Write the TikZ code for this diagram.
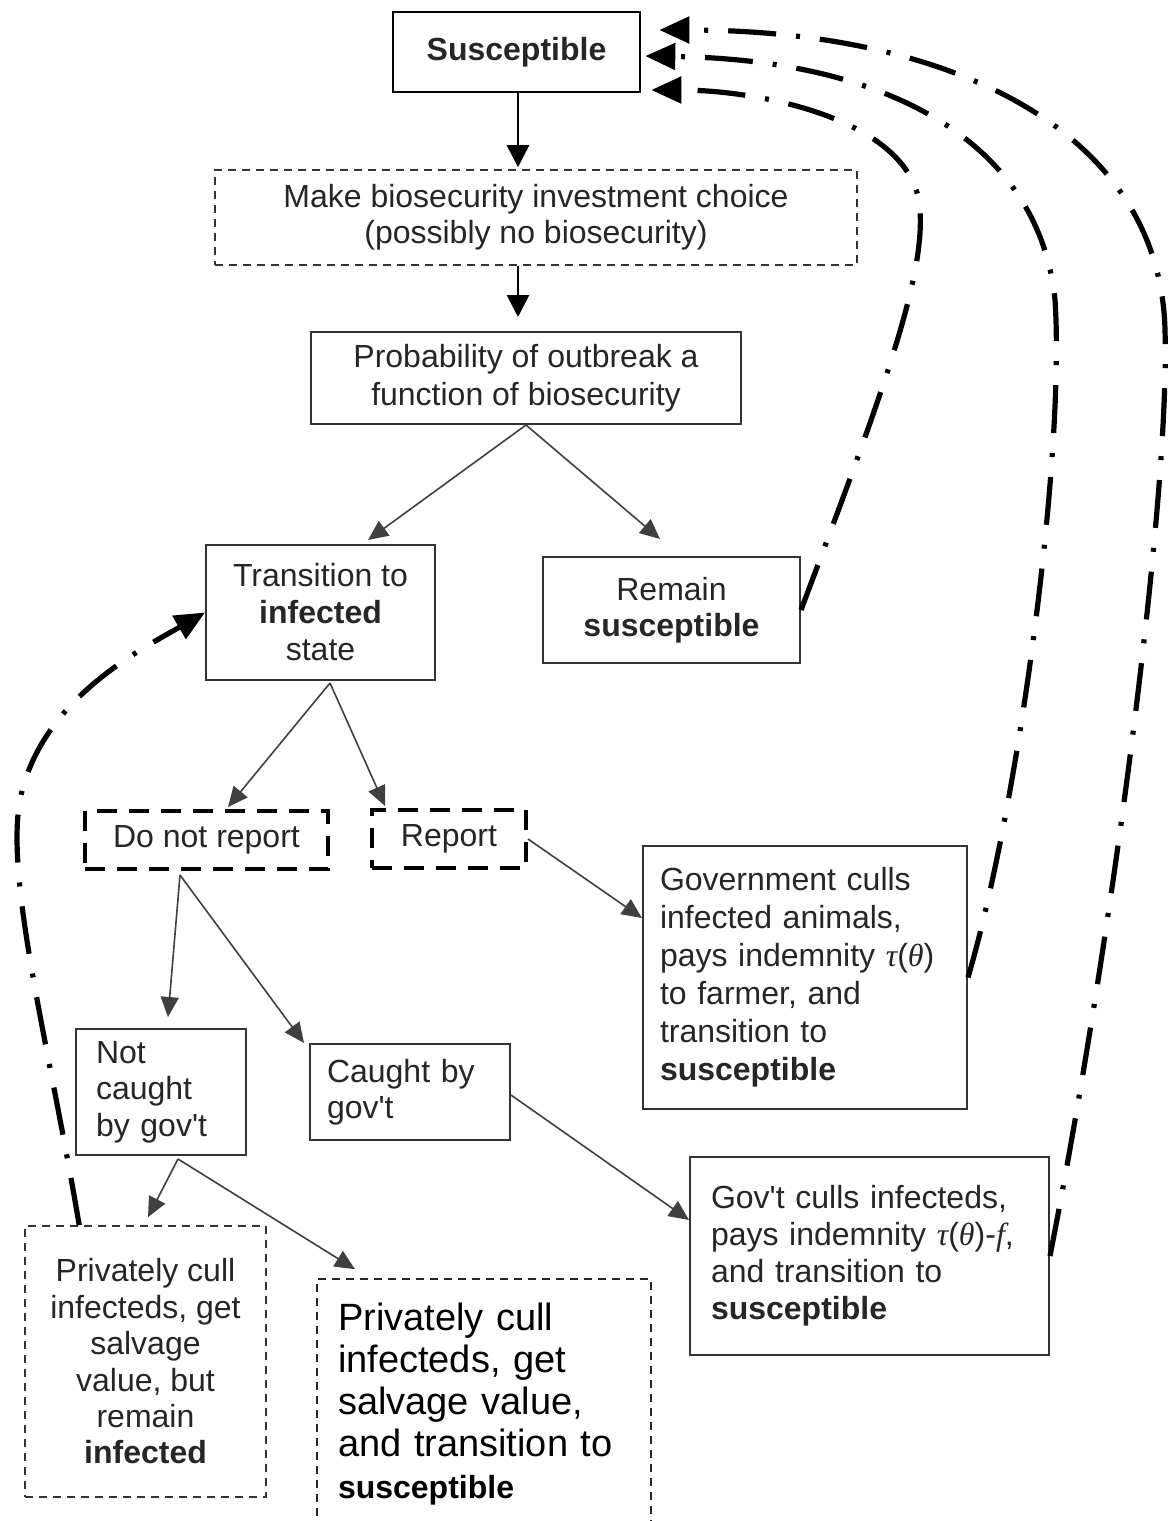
\documentclass[tikz,border=0pt]{standalone}
\usepackage{fontspec}
\setmainfont{Liberation Sans}
\newfontfamily\grkfont{Liberation Serif}
\newcommand{\tautheta}{{\grkfont\itshape τ}({\grkfont\itshape θ})}
\usetikzlibrary{arrows.meta,calc}
\begin{document}
\begin{tikzpicture}[x=0.5pt,y=-0.5pt,
  box/.style={draw=black!80, line width=1pt, inner sep=0pt, text=black!85,
    font=\fontsize{16}{18.5}\selectfont},
  dbox/.style={box, line width=0.8pt, dash pattern=on 4pt off 3pt},
  tdbox/.style={box, draw=black, line width=2pt, dash pattern=on 10pt off 6pt},
  tarr/.style={draw=black!75, line width=0.8pt, -{Triangle[length=10pt,width=9pt]}},
  darr/.style={draw=black, line width=1.4pt, -{Triangle[length=11pt,width=11pt]}},
  back/.style={draw=black, line width=2.6pt, dash pattern=on 24pt off 10pt on 2pt off 10pt,
    -{Triangle[length=15pt,width=13pt]}},
]
\clip (0,0) rectangle (1169,1521);
\fill[white] (0,0) rectangle (1169,1521);

% nodes
\node[box, draw=black, line width=1.3pt, minimum width=123.5pt, minimum height=40pt,
  font=\fontsize{16}{18}\selectfont\bfseries] (sus) at (516.5,52) {Susceptible};
\node[dbox, minimum width=321pt, minimum height=47.5pt, align=center,
  font=\fontsize{16}{18}\selectfont] (make) at (536,217.5)
  {Make biosecurity investment choice\\(possibly no biosecurity)};
\node[box, minimum width=215pt, minimum height=46pt, align=center,
  font=\fontsize{16}{19}\selectfont] (prob) at (526,378)
  {Probability of outbreak a\\function of biosecurity};
\node[box, minimum width=114.5pt, minimum height=67.5pt, align=center] (trans) at (320.5,612.5)
  {Transition to\\\textbf{infected}\\state};
\node[box, minimum width=128.5pt, minimum height=53pt, align=center,
  font=\fontsize{16}{18}\selectfont] (remain) at (671.5,610)
  {Remain\\\textbf{susceptible}};
\node[tdbox, minimum width=121.5pt, minimum height=29pt] (dnr) at (206.5,840) {Do not report};
\node[tdbox, minimum width=77pt, minimum height=29pt] (rep) at (449,839) {Report};
\node[box, minimum width=162pt, minimum height=131.5pt, text width=145pt, align=left,
  font=\fontsize{16}{19}\selectfont] (gov) at (805,977.5)
  {Government culls\\infected animals,\\\mbox{pays indemnity \tautheta}\\to farmer, and\\transition to\\\textbf{susceptible}};
\node[box, minimum width=85pt, minimum height=63pt, text width=65pt, align=left,
  font=\fontsize{16}{18.2}\selectfont] (notc) at (161,1092)
  {Not\\caught\\by gov\textquotesingle t};
\node[box, minimum width=100pt, minimum height=48pt, text width=83pt, align=left,
  font=\fontsize{16}{18}\selectfont] (caught) at (410,1092)
  {Caught by\\gov\textquotesingle t};
\node[box, minimum width=179.5pt, minimum height=99pt, text width=158.5pt, align=left,
  font=\fontsize{16}{18.5}\selectfont] (govi) at (869.5,1256)
  {Gov\textquotesingle t culls infecteds,\\\mbox{pays indemnity \tautheta-{\grkfont\itshape f},}\\and transition to\\\textbf{susceptible}};
\node[dbox, minimum width=120.5pt, minimum height=135.5pt, align=center,
  font=\fontsize{16}{18.2}\selectfont] (privL) at (145.5,1361.5)
  {Privately cull\\infecteds, get\\salvage\\value, but\\remain\\\textbf{infected}};
\node[dbox, draw=black!85, minimum width=167pt, minimum height=125.5pt, text width=146pt, align=left,
  font=\fontsize{19}{21}\selectfont, text=black] (privR) at (484,1404.5)
  {Privately cull\\infecteds, get\\salvage value,\\and transition to\\{\fontsize{16}{21}\selectfont\bfseries susceptible}};

% main flow arrows
\draw[darr] ($(sus.south)+(1.5,0)$) -- ($(make.north)+(-18,-2)$);
\draw[darr] ($(make.south)+(-18,0)$) -- ($(prob.north)+(-8,-14)$);
\draw[tarr] (prob.south) -- ($(trans.north)+(47.5,-4)$);
\draw[tarr] (prob.south) -- ($(remain.north)+(-11.5,-17)$);
\draw[tarr] ($(trans.south)+(9.5,2)$) -- ($(dnr.north)+(21.5,-2)$);
\draw[tarr] ($(trans.south)+(9.5,2)$) -- ($(rep.north)+(-64,-2)$);
\draw[tarr] (rep.east) -- ($(gov.west)+(0,-59.5)$);
\draw[tarr] ($(dnr.south)+(-26.5,4)$) -- ($(notc.north)+(7,-11)$);
\draw[tarr] ($(dnr.south)+(-26.5,4)$) -- ($(caught.north west)+(-5,0)$);
\draw[tarr] ($(notc.south)+(17,3)$) -- ($(privL.north)+(2.5,-8)$);
\draw[tarr] ($(notc.south)+(17,3)$) -- ($(privR.north)+(-129,-9)$);
\draw[tarr] ($(caught.east)+(0,3)$) -- ($(govi.west)+(0,-36)$);

% return (dash-dot) arrows
\draw[back] (remain.east) .. controls (880,400) and (925,280) .. (920,210)
  .. controls (915,120) and (760,90) .. ($(sus.east)+(10,38)$);
\draw[back] (gov.east) .. controls (1020,800) and (1065,450) .. (1055,300)
  .. controls (1040,150) and (900,60) .. ($(sus.east)+(4,4)$);
\draw[back] (govi.east) .. controls (1110,950) and (1170,500) .. (1165,330)
  .. controls (1160,130) and (950,30) .. ($(sus.east)+(18,-22)$);
\draw[back] ($(privL.north west)+(55,0)$) .. controls (50,1050) and (5,880) .. (20,800)
  .. controls (40,700) and (140,650) .. (trans.west);
\end{tikzpicture}
\end{document}
